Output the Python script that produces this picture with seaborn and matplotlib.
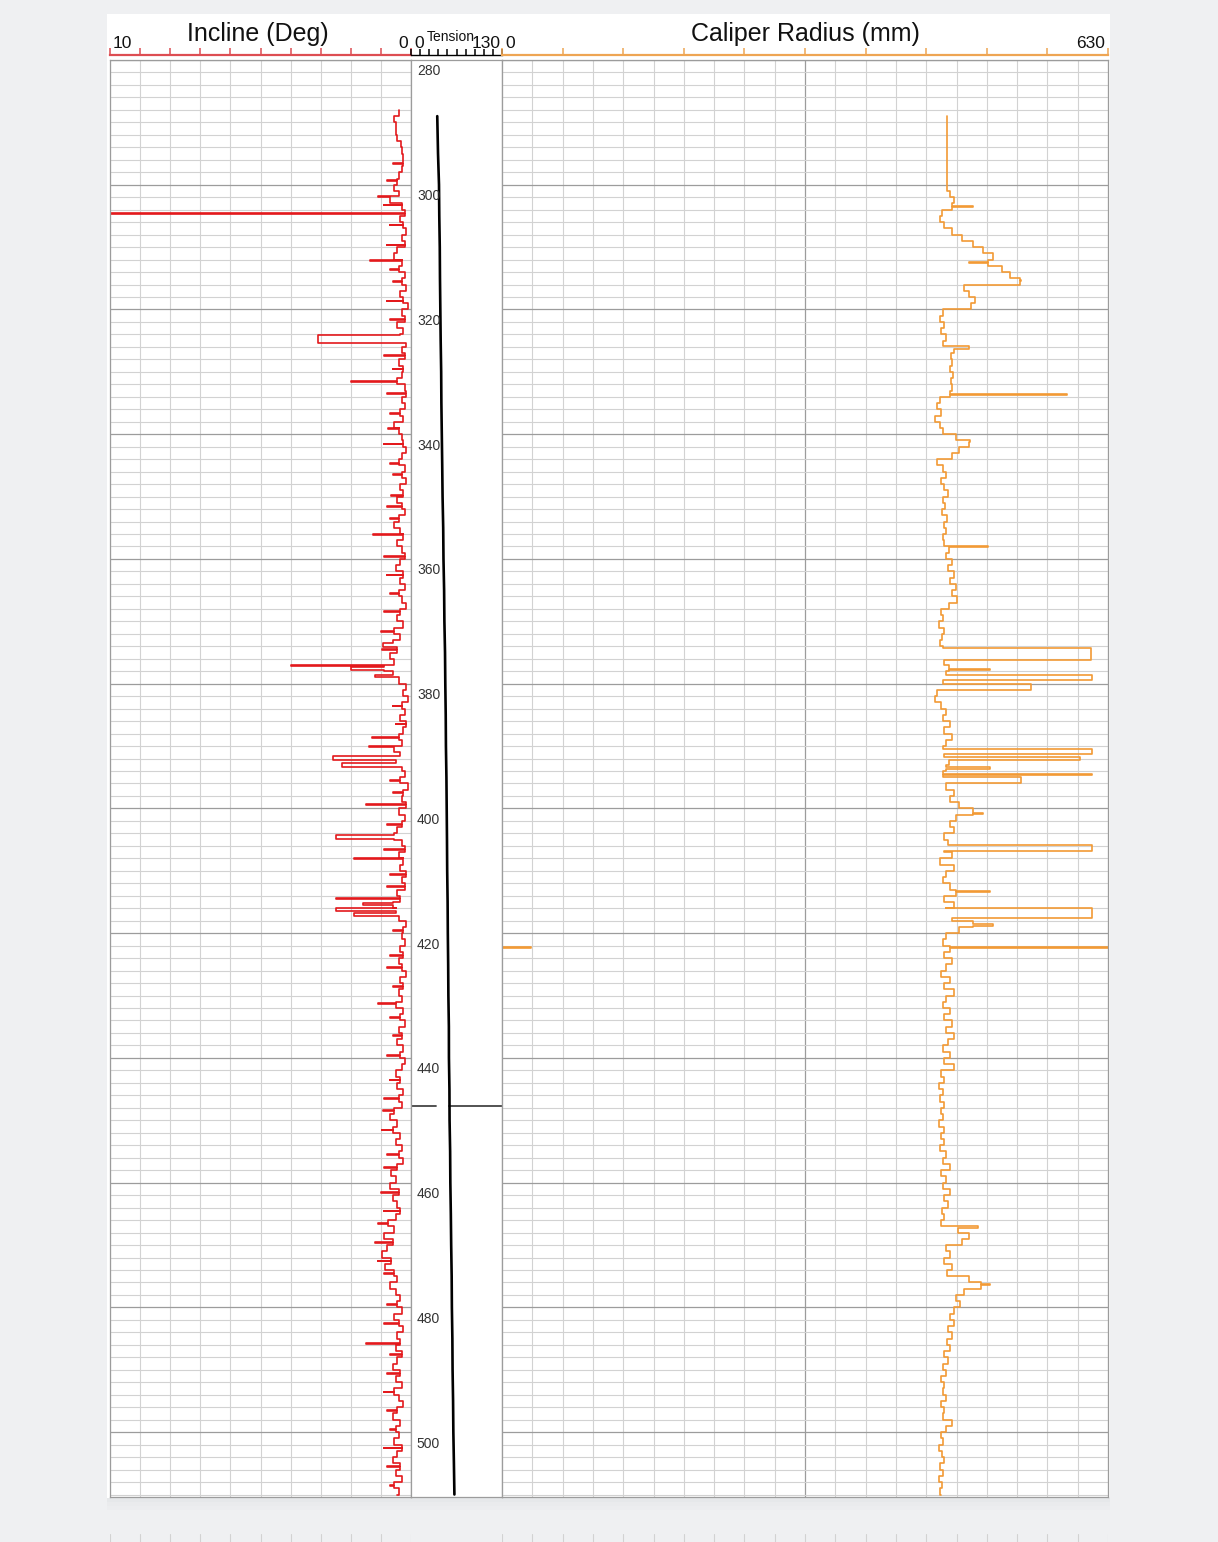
import numpy as np
import pandas as pd
import seaborn as sns
import matplotlib.pyplot as plt
from matplotlib.patches import Rectangle
from matplotlib.transforms import blended_transform_factory

incline_start = 288  # m, one sample per metre
incline_deg = [
    0.40, 0.55, 0.50, 0.50, 0.48, 0.33, 0.30, 0.28, 0.25, 0.30,  # 288-297
    0.39, 0.45, 0.55, 0.40, 0.70, 0.30, 0.20, 0.35, 0.25, 0.15,  # 298-307
    0.30, 0.20, 0.45, 0.55, 0.30, 0.40, 0.20, 0.30, 0.15, 0.35,  # 308-317
    0.25, 0.10, 0.30, 0.20, 0.45, 0.25, 0.35, 0.15, 0.30, 0.20,  # 318-327
    0.40, 0.25, 0.30, 0.45, 0.20, 0.15, 0.30, 0.20, 0.35, 0.25,  # 328-337
    0.55, 0.40, 0.30, 0.25, 0.15, 0.30, 0.40, 0.20, 0.30, 0.15,  # 338-347
    0.35, 0.25, 0.45, 0.30, 0.20, 0.40, 0.55, 0.35, 0.25, 0.45,  # 348-357
    0.30, 0.20, 0.35, 0.50, 0.25, 0.35, 0.20, 0.40, 0.30, 0.15,  # 358-367
    0.35, 0.45, 0.25, 0.55, 0.35, 0.60, 0.45, 0.70, 0.55, 0.90,  # 368-377
    0.60, 0.40, 0.15, 0.25, 0.10, 0.30, 0.20, 0.35, 0.15, 0.25,  # 378-387
    0.40, 0.30, 0.55, 0.35, 0.50, 0.30, 0.20, 0.35, 0.10, 0.25,  # 388-397
    0.30, 0.15, 0.40, 0.20, 0.30, 0.45, 0.55, 0.30, 0.20, 0.40,  # 398-407
    0.25, 0.35, 0.15, 0.30, 0.20, 0.45, 0.35, 0.60, 0.50, 0.40,  # 408-417
    0.15, 0.25, 0.30, 0.20, 0.35, 0.25, 0.40, 0.30, 0.15, 0.35,  # 418-427
    0.25, 0.40, 0.30, 0.50, 0.25, 0.35, 0.20, 0.40, 0.30, 0.45,  # 428-437
    0.25, 0.35, 0.20, 0.30, 0.50, 0.35, 0.45, 0.25, 0.40, 0.30,  # 438-447
    0.55, 0.70, 0.45, 0.60, 0.35, 0.50, 0.30, 0.40, 0.25, 0.45,  # 448-457
    0.65, 0.50, 0.70, 0.40, 0.60, 0.45, 0.35, 0.50, 0.75, 0.55,  # 458-467
    0.90, 0.60, 0.80, 0.95, 0.65, 0.85, 0.55, 0.45, 0.70, 0.50,  # 468-477
    0.35, 0.45, 0.30, 0.55, 0.40, 0.25, 0.45, 0.35, 0.50, 0.30,  # 478-487
    0.45, 0.60, 0.35, 0.50, 0.30, 0.55, 0.40, 0.25, 0.45, 0.60,  # 488-497
    0.35, 0.50, 0.40, 0.55, 0.30, 0.45, 0.60, 0.35, 0.50, 0.30,  # 498-507
    0.55, 0.40, 0.45,                                            # 508-510
]
incline_spike_depth = [301.8, 304.5, 312.0, 324.1, 331.4, 339.0, 349.7, 356.0,
                       373.5, 377.0, 377.4, 378.6, 388.6, 390.0, 391.6, 392.7,
                       399.3, 404.2, 408.0, 414.4, 415.2, 416.0, 416.8, 431.2,
                       448.3, 485.7]
incline_spike_deg = [1.10, 10.0, 1.36, 3.10, 2.00, 0.78, 0.67, 1.26,
                     0.92, 4.00, 2.00, 1.20, 1.28, 1.39, 2.60, 2.30,
                     1.48, 2.48, 1.90, 2.48, 1.60, 2.48, 1.90, 1.09,
                     0.92, 1.48]
incline_spike_len = [0.2, 0.25, 0.2, 1.3, 0.2, 0.2, 0.2, 0.2,
                     0.6, 0.2, 0.4, 0.4, 0.15, 0.15, 0.6, 0.7,
                     0.15, 0.7, 0.15, 0.2, 0.3, 0.5, 0.5, 0.2,
                     0.2, 0.2]
# short sub-metre flicks of the incline trace
incline_flick_depth = [296.5, 299.3, 303.2, 306.4, 309.6, 313.5, 315.4, 318.6,
                       321.5, 327.3, 329.5, 333.4, 336.6, 341.5, 344.6, 346.4,
                       351.5, 353.4, 359.5, 362.5, 365.5, 368.4, 371.6, 374.5,
                       383.5, 386.4, 395.5, 397.4, 402.5, 406.5, 410.5, 412.5,
                       419.5, 423.5, 425.4, 428.5, 433.5, 436.4, 439.5, 443.5,
                       446.5, 451.5, 455.4, 457.5, 461.5, 464.5, 466.5, 469.5,
                       472.5, 474.5, 479.5, 482.5, 487.5, 490.5, 493.5, 496.5,
                       499.5, 502.5, 505.5, 508.5]
incline_flick_deg = [0.60, 0.80, 0.90, 0.70, 0.80, 0.70, 0.60, 0.80,
                     0.70, 0.90, 0.60, 0.80, 0.70, 0.90, 0.70, 0.60,
                     0.80, 0.70, 0.90, 0.80, 0.70, 0.90, 1.00, 0.95,
                     0.60, 0.50, 0.70, 0.60, 0.80, 0.90, 0.70, 0.80,
                     0.60, 0.70, 0.80, 0.60, 0.70, 0.60, 0.80, 0.70,
                     0.90, 0.95, 0.80, 0.90, 1.00, 0.90, 1.10, 1.20,
                     1.10, 0.90, 0.80, 0.90, 0.70, 0.80, 0.90, 0.80,
                     0.70, 0.90, 0.80, 0.70]

caliper_start = 289  # m, one sample per metre
caliper_mm = [
    463, 463, 463, 463, 463, 463, 463, 463, 463, 463,  # 289-298
    463, 463, 466, 470, 468, 457, 455, 460, 468, 478,  # 299-308
    490, 500, 510, 505, 520, 528, 538, 480, 486, 492,  # 309-318
    488, 458, 455, 460, 456, 462, 458, 470, 467, 468,  # 319-328
    466, 469, 467, 468, 466, 455, 452, 456, 450, 455,  # 329-338
    458, 472, 485, 475, 468, 452, 458, 462, 456, 460,  # 339-348
    464, 458, 461, 457, 463, 459, 462, 458, 460, 465,  # 349-358
    462, 468, 464, 470, 466, 472, 468, 473, 465, 456,  # 359-368
    458, 454, 460, 457, 455, 458, 462, 460, 465, 462,  # 369-378
    458, 550, 452, 450, 456, 462, 458, 466, 460, 468,  # 379-388
    462, 458, 460, 465, 462, 458, 540, 462, 470, 466,  # 389-398
    475, 490, 472, 466, 470, 460, 464, 460, 468, 455,  # 399-408
    470, 462, 458, 466, 472, 460, 470, 462, 468, 490,  # 409-418
    475, 462, 458, 466, 460, 468, 462, 456, 466, 460,  # 419-428
    470, 462, 458, 466, 460, 468, 462, 470, 464, 458,  # 429-438
    466, 460, 470, 456, 460, 454, 458, 455, 460, 456,  # 439-448
    458, 454, 459, 456, 460, 455, 462, 458, 466, 456,  # 449-458
    462, 458, 466, 460, 464, 457, 460, 456, 474, 485,  # 459-468
    478, 462, 466, 460, 468, 463, 485, 498, 480, 472,  # 469-478
    476, 470, 466, 470, 464, 468, 463, 466, 460, 464,  # 479-488
    458, 462, 456, 460, 458, 462, 456, 460, 458, 468,  # 489-498
    462, 456, 458, 454, 457, 460, 455, 458, 454, 457,  # 499-508
    455, 456,                                          # 509-510
]
caliper_spike_depth = [303.4, 312.4, 315.2, 325.9, 333.5, 341.0, 358.0, 374.2,
                       377.6, 378.6, 390.4, 391.8, 393.4, 394.4, 400.7, 405.8,
                       413.2, 416.0, 418.5, 422.2, 467.0, 476.2]
caliper_spike_mm = [490, 485, 540, 485, 587, 487, 505, 612,
                    507, 613, 613, 601, 507, 613, 500, 613,
                    507, 613, 510, 660, 495, 507]
caliper_spike_len = [0.2, 0.2, 0.3, 0.4, 0.2, 0.3, 0.15, 2.0,
                     0.2, 0.8, 0.8, 0.5, 0.2, 0.3, 0.2, 1.1,
                     0.2, 1.5, 0.3, 0.25, 0.2, 0.2]

tension_depth = [289, 295, 300, 305, 310, 315, 320, 325, 330, 335, 340, 345,
                 350, 355, 360, 365, 370, 375, 380, 385, 390, 395, 400, 405,
                 410, 415, 420, 425, 430, 435, 440, 445, 450, 455, 460, 465,
                 470, 475, 480, 485, 490, 495, 500, 505, 510]
tension_value = [37.5, 38.6, 40.0, 40.4, 41.1, 41.4, 41.9, 42.4, 43.1, 43.4,
                 44.0, 44.6, 45.1, 46.0, 46.4, 47.3, 47.7, 48.6, 49.0, 49.6,
                 49.9, 50.6, 51.0, 51.4, 51.7, 52.3, 52.6, 53.1, 53.4, 54.1,
                 54.2, 54.9, 55.1, 55.9, 56.2, 56.9, 57.4, 58.1, 58.4, 59.1,
                 59.4, 60.1, 60.5, 61.3, 62.0]
tool_marker_depth = 447.7

depth_labels = [280, 300, 320, 340, 360, 380, 400, 420, 440, 460, 480, 500]
depth_top, depth_bottom = 280, 510.4
incline_range = (10, 0)
tension_range = (0, 130)
caliper_range = (0, 630)

RED = "#e3191c"
RED_HEAD = "#dd4d52"
ORANGE = "#f29a35"
ORANGE_HEAD = "#eea553"
GRID_MINOR = "#d2d2d2"
GRID_MAJOR = "#9c9c9c"


def log_frame(start, values, spike_depth, spike_value, spike_len):
    depth = np.arange(start, start + len(values), dtype=float)
    base = pd.Series(values, index=depth, dtype=float)
    keep = np.ones(len(depth), dtype=bool)
    rows = []
    for d, v, s in zip(spike_depth, spike_value, spike_len):
        back = base[base.index <= d + s].iloc[-1]
        keep &= ~((depth > d) & (depth < d + s))
        rows += [(d, v), (d + s, back)]
    rows = list(zip(depth[keep], base.values[keep])) + rows
    df = pd.DataFrame(rows, columns=["depth", "value"])
    return df.sort_values("depth", kind="stable").reset_index(drop=True)


incline_df = log_frame(incline_start, incline_deg,
                       incline_spike_depth + incline_flick_depth,
                       incline_spike_deg + incline_flick_deg,
                       incline_spike_len + [0.12] * len(incline_flick_depth))
caliper_df = log_frame(caliper_start, caliper_mm, caliper_spike_depth,
                       caliper_spike_mm, caliper_spike_len)
tension_df = pd.DataFrame({"depth": tension_depth, "value": tension_value})

# values beyond the caliper scale wrap round to the start of the track
wrap_rows = []
for d, v, s in zip(caliper_spike_depth, caliper_spike_mm, caliper_spike_len):
    if v > caliper_range[1]:
        wrap_rows += [(d, 0.0), (d, v - caliper_range[1]), (d + s, 0.0)]
wrap_df = pd.DataFrame(wrap_rows, columns=["depth", "value"])

# ---- figure ----
sns.set_theme(style="white")
plt.rcParams["font.family"] = ["Liberation Sans", "DejaVu Sans"]

W, H = 1218, 1542
fig = plt.figure(figsize=(W / 100, H / 100), dpi=100)
fig.patch.set_facecolor("#eff0f2")


def frac(x0, y0, x1, y1):
    return [x0 / W, 1 - y1 / H, (x1 - x0) / W, (y1 - y0) / H]


fig.patches.append(Rectangle((107 / W, 1 - 1498 / H), (1110 - 107) / W, (1498 - 14) / H,
                             transform=fig.transFigure, facecolor="white",
                             edgecolor="none", zorder=-2))
for i, a in enumerate([0.10, 0.06, 0.03]):
    fig.patches.append(Rectangle((107 / W, 1 - (1502 + 4 * i) / H), (1110 - 107) / W, 4 / H,
                                 transform=fig.transFigure, facecolor="#a0a4a8",
                                 alpha=a, edgecolor="none", zorder=-2))

TOP, BOTTOM, HEAD_TOP, HEAD_BOT = 60, 1497, 15, 55
ax_inc = fig.add_axes(frac(110, TOP, 411, BOTTOM))
ax_ten = fig.add_axes(frac(411, TOP, 502, BOTTOM))
ax_cal = fig.add_axes(frac(502, TOP, 1108, BOTTOM))
hd_inc = fig.add_axes(frac(110, HEAD_TOP, 411, HEAD_BOT))
hd_ten = fig.add_axes(frac(411, HEAD_TOP, 502, HEAD_BOT))
hd_cal = fig.add_axes(frac(502, HEAD_TOP, 1108, HEAD_BOT))


def style_track(ax, xlim, major_x, minor_x, grid=True):
    ax.set_xlim(*xlim)
    ax.set_ylim(depth_bottom, depth_top)
    ax.set_facecolor("white")
    ax.set_xticks(major_x)
    ax.set_xticks(minor_x, minor=True)
    ax.set_yticks(np.arange(280, 511, 20))
    ax.set_yticks(np.arange(280, 511, 2), minor=True)
    ax.tick_params(which="both", length=0, labelleft=False, labelbottom=False)
    if grid:
        ax.grid(axis="y", which="minor", color=GRID_MINOR, lw=0.8)
        ax.grid(axis="y", which="major", color=GRID_MAJOR, lw=0.9)
        ax.grid(axis="x", which="minor", color=GRID_MINOR, lw=0.8)
        ax.grid(axis="x", which="major", color=GRID_MAJOR, lw=0.9)
        ax.set_axisbelow(True)
    for s in ax.spines.values():
        s.set_color(GRID_MAJOR)
        s.set_linewidth(0.9)


style_track(ax_inc, incline_range, [], np.arange(0, 11, 1))
style_track(ax_ten, tension_range, [], [], grid=False)
style_track(ax_cal, caliper_range, [315], np.arange(0, 631, 31.5))

sns.lineplot(data=incline_df, x="value", y="depth", ax=ax_inc, orient="y",
             sort=False, estimator=None, color=RED, lw=1.2,
             drawstyle="steps-pre", legend=False)
sns.lineplot(data=caliper_df, x="value", y="depth", ax=ax_cal, orient="y",
             sort=False, estimator=None, color=ORANGE, lw=1.2,
             drawstyle="steps-pre", legend=False)
sns.lineplot(data=wrap_df, x="value", y="depth", ax=ax_cal, orient="y",
             sort=False, estimator=None, color=ORANGE, lw=1.2,
             drawstyle="steps-pre", legend=False)
ax_ten.axhline(tool_marker_depth, 0, 0.27, color="#444444", lw=1.3)
ax_ten.axhline(tool_marker_depth, 0.42, 1, color="#444444", lw=1.3)
sns.lineplot(data=tension_df, x="value", y="depth", ax=ax_ten, orient="y",
             sort=False, estimator=None, color="black", lw=1.9, legend=False)
for a, lim in ((ax_inc, incline_range), (ax_ten, tension_range), (ax_cal, caliper_range)):
    a.set_xlabel("")
    a.set_ylabel("")
    a.set_xlim(*lim)
    a.set_ylim(depth_bottom, depth_top)

tr = blended_transform_factory(ax_ten.transAxes, ax_ten.transData)
for d in depth_labels:
    ax_ten.text(0.065, d + 0.7, str(d), transform=tr, ha="left", va="top",
                fontsize=10, color="#333333")


# ---- headers ----
def style_header(ax, xlim, ticks, color, lw, tick_len):
    ax.set_xlim(*xlim)
    ax.set_ylim(0, 1)
    ax.patch.set_alpha(0)
    for k in ("left", "right", "top"):
        ax.spines[k].set_visible(False)
    ax.spines["bottom"].set_color(color)
    ax.spines["bottom"].set_linewidth(lw)
    ax.set_yticks([])
    ax.set_xticks(ticks)
    ax.tick_params(axis="x", direction="in", length=tick_len, width=1.1,
                   color=color, labelbottom=False, bottom=True)


style_header(hd_inc, incline_range, np.arange(0, 11, 1), RED_HEAD, 1.6, 5)
style_header(hd_ten, tension_range, np.arange(0, 131, 13), "black", 1.0, 4)
style_header(hd_cal, caliper_range, np.arange(0, 631, 63), ORANGE_HEAD, 1.6, 5)

txt = dict(color="#111111", va="center")
hd_inc.text(0.49, 0.52, "Incline (Deg)", transform=hd_inc.transAxes,
            ha="center", fontsize=18, **txt)
hd_inc.text(0.01, 0.28, "10", transform=hd_inc.transAxes, ha="left",
            fontsize=12.5, **txt)
hd_inc.text(0.99, 0.28, "0", transform=hd_inc.transAxes, ha="right",
            fontsize=12.5, **txt)
hd_ten.text(0.04, 0.28, "0", transform=hd_ten.transAxes, ha="left",
            fontsize=12.5, **txt)
hd_ten.text(0.98, 0.28, "130", transform=hd_ten.transAxes, ha="right",
            fontsize=12.5, **txt)
hd_ten.text(0.17, 0.45, "Tension", transform=hd_ten.transAxes, ha="left",
            fontsize=10, **txt)
hd_cal.text(0.5, 0.52, "Caliper Radius (mm)", transform=hd_cal.transAxes,
            ha="center", fontsize=18, **txt)
hd_cal.text(0.006, 0.28, "0", transform=hd_cal.transAxes, ha="left",
            fontsize=12.5, **txt)
hd_cal.text(0.995, 0.28, "630", transform=hd_cal.transAxes, ha="right",
            fontsize=12.5, **txt)

# top of the next log panel peeking in at the bottom edge
for (x0, x1), xlim, minor in [((110, 411), incline_range, np.arange(0, 11, 1)),
                              ((502, 1108), caliper_range, np.arange(0, 631, 31.5))]:
    st = fig.add_axes(frac(x0, 1534, x1, H))
    st.set_xlim(*xlim)
    st.set_xticks(minor)
    st.set_yticks([])
    st.tick_params(length=0, labelbottom=False)
    st.grid(axis="x", color=GRID_MINOR, lw=0.8)
    st.patch.set_alpha(0)
    for s in st.spines.values():
        s.set_visible(False)

fig.savefig("out.png", dpi=100, facecolor=fig.get_facecolor())
